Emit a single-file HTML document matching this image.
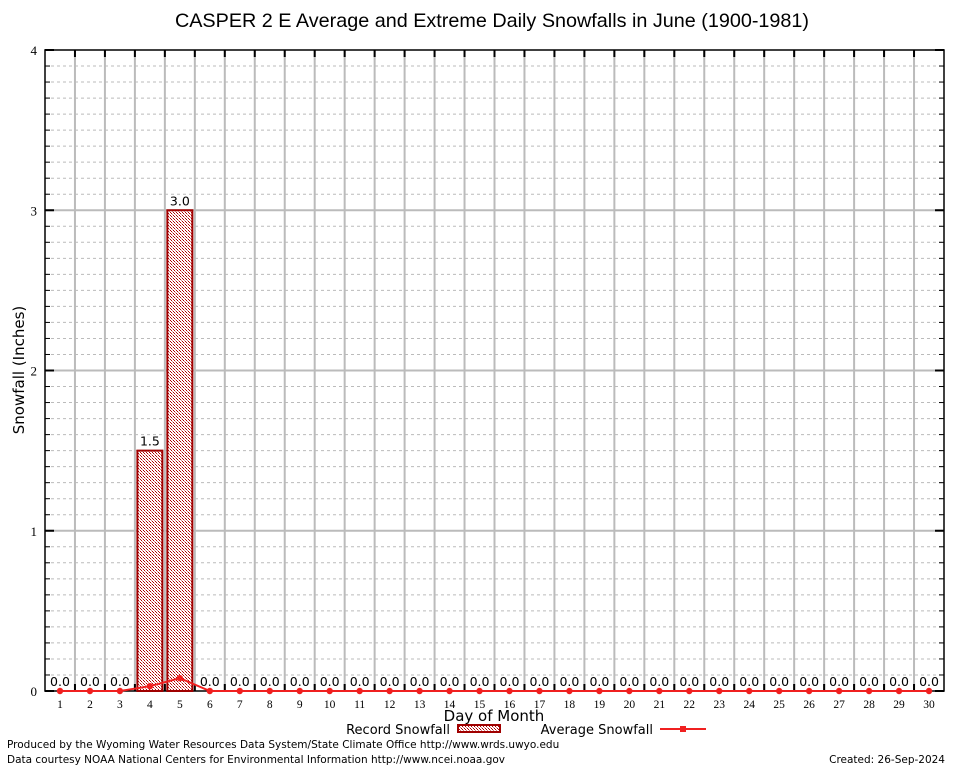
<!DOCTYPE html>
<html><head><meta charset="utf-8"><style>
body{margin:0;background:#fff;}
svg{display:block;font-family:"DejaVu Sans","Liberation Sans",sans-serif;}
</style></head><body>
<svg id="c" width="954" height="768" viewBox="0 0 954 768">
<defs>
<pattern id="hatch" width="3" height="3" patternUnits="userSpaceOnUse">
<rect width="3" height="3" fill="#fff"/>
<rect width="1" height="1" fill="#b00000"/><rect x="2" y="2" width="1" height="1" fill="#b00000"/><rect x="1" y="1" width="1" height="1" fill="#e08080"/>
</pattern>
</defs>
<text x="492" y="27" text-anchor="middle" font-size="19.8" font-family="Liberation Sans, sans-serif">CASPER 2 E Average and Extreme Daily Snowfalls in June (1900-1981)</text>
<g id="grid"></g>
<g id="marks"></g>
<text transform="translate(24,370) rotate(-90)" text-anchor="middle" font-size="15">Snowfall (Inches)</text>
<text x="494" y="721" text-anchor="middle" font-size="15">Day of Month</text>
<g>
<text x="450" y="734" text-anchor="end" font-size="13">Record Snowfall</text>
<rect x="458" y="725" width="42" height="7" fill="url(#hatch)" stroke="#a00000" stroke-width="2"/>
</g>
<g>
<text x="653" y="734" text-anchor="end" font-size="13">Average Snowfall</text>
<line x1="660" y1="729" x2="706" y2="729" stroke="#f02020" stroke-width="2"/>
<rect x="680" y="726" width="6" height="6" fill="#f02020"/>
</g>
<text x="7" y="748" font-size="10.5">Produced by the Wyoming Water Resources Data System/State Climate Office http://www.wrds.uwyo.edu</text>
<text x="7" y="763" font-size="10.5">Data courtesy NOAA National Centers for Environmental Information http://www.ncei.noaa.gov</text>
<text x="945" y="763" text-anchor="end" font-size="10.5">Created:  26-Sep-2024</text>
</svg>
<script>
const days=[1,2,3,4,5,6,7,8,9,10,11,12,13,14,15,16,17,18,19,20,21,22,23,24,25,26,27,28,29,30];
const recordSnow=[0,0,0,1.5,3.0,0,0,0,0,0,0,0,0,0,0,0,0,0,0,0,0,0,0,0,0,0,0,0,0,0];
const avgSnow=[0,0,0,0.03,0.08,0,0,0,0,0,0,0,0,0,0,0,0,0,0,0,0,0,0,0,0,0,0,0,0,0];
const yTicks=[0,1,2,3,4];
const L=45,R=944,T=50,B=691,ymax=4;
const dw=(R-L)/days.length;
const x=d=>L+(d-0.5)*dw;
const y=v=>B-(v/ymax)*(B-T);
const NS="http://www.w3.org/2000/svg";
function mk(t,a,p){const e=document.createElementNS(NS,t);for(const k in a)e.setAttribute(k,a[k]);p.appendChild(e);return e;}
const g=document.getElementById('grid'),m=document.getElementById('marks');
for(let v=0.1;v<ymax;v+=0.1){const yy=y(v);
 if(Math.abs(v-Math.round(v))<1e-6)continue;
 const ln=mk('line',{x1:L,x2:R,y1:yy,y2:yy,stroke:'#bbb','stroke-dasharray':'3,3'},g);
 
 
 mk('line',{x1:L,x2:L+5,y1:yy,y2:yy,stroke:'#000'},g);mk('line',{x1:R-5,x2:R,y1:yy,y2:yy,stroke:'#000'},g);}
for(let i=1;i<days.length;i++){const xx=L+i*dw;
 const ln=mk('line',{x1:xx,x2:xx,y1:T,y2:B,stroke:'#bbb','stroke-width':2},g);
 
 
 mk('line',{x1:xx,x2:xx,y1:T,y2:T+7,stroke:'#000','stroke-width':2},g);mk('line',{x1:xx,x2:xx,y1:B-7,y2:B,stroke:'#000','stroke-width':2},g);}
yTicks.forEach(v=>{const yy=y(v);
 if(v>0&&v<ymax)mk('line',{x1:L,x2:R,y1:yy,y2:yy,stroke:'#bbb','stroke-width':2},g);
 mk('line',{x1:L,x2:L+9,y1:yy,y2:yy,stroke:'#000','stroke-width':2},g);mk('line',{x1:R-9,x2:R,y1:yy,y2:yy,stroke:'#000','stroke-width':2},g);
 const t=mk('text',{x:L-8,y:yy+5,'text-anchor':'end','font-size':13,'font-family':'Liberation Serif, serif'},g);t.textContent=v;
 
 });
const fr=mk('rect',{x:L,y:T,width:R-L,height:B-T,fill:'none',stroke:'#000','stroke-width':1.5},g);


days.forEach((d,i)=>{const xx=x(d);
 const t=mk('text',{x:xx,y:B+17,'text-anchor':'middle','font-size':11.5,'font-family':'Liberation Serif, serif'},g);t.textContent=d;
 
 
 const v=recordSnow[i];
 if(v>0){const r=mk('rect',{x:xx-12.5,y:y(v),width:25,height:B-y(v),fill:'url(#hatch)',stroke:'#a00000','stroke-width':2},m);
  
  }
 const lb=mk('text',{x:xx,y:y(v)-5,'text-anchor':'middle','font-size':12.5},m);lb.textContent=v.toFixed(1);
 
 });
const pl=mk('polyline',{points:days.map((d,i)=>x(d)+','+y(avgSnow[i])).join(' '),fill:'none',stroke:'#f02020','stroke-width':2},m);


days.forEach((d,i)=>{const c=mk('circle',{cx:x(d),cy:y(avgSnow[i]),r:3.2,fill:'#f02020'},m);
 
 });
</script>
</body></html>
